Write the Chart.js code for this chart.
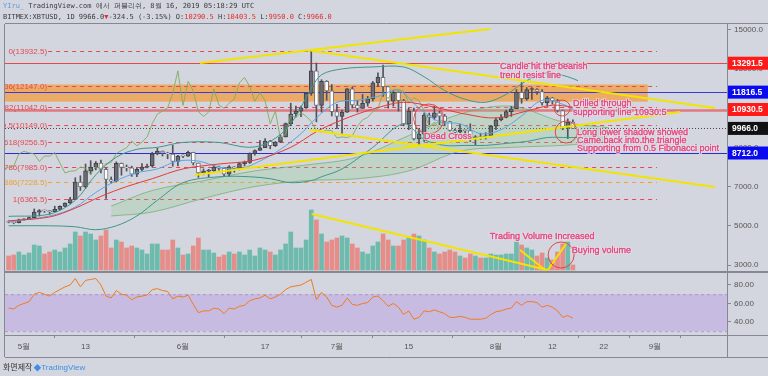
<!DOCTYPE html>
<html><head><meta charset="utf-8">
<script src="https://cdn.jsdelivr.net/npm/chart.js@4.4.1/dist/chart.umd.min.js"></script>
<style>
html,body{margin:0;padding:0;background:#d3d6de;width:768px;height:376px;overflow:hidden;}
#wrap{position:relative;width:768px;height:376px;}
canvas{position:absolute;left:0;top:0;}
.hd{position:absolute;left:3px;font:7px "DejaVu Sans Mono",monospace;color:#3a3a3a;white-space:pre;line-height:9px;}
.r{color:#e0302e;}
.ft{position:absolute;left:3px;top:361px;font:8px "Noto Sans CJK KR",sans-serif;color:#333;white-space:pre;}
.tv{color:#3d8fe6;font:8px "Liberation Sans",sans-serif;}
</style></head>
<body><div id="wrap">
<canvas id="c" width="768" height="376"></canvas>
<div class="hd" style="top:2px"><span style="color:#5a9be0">YIru_</span> TradingView.com 에서 퍼블리쉬, 8월 16, 2019 05:18:29 UTC</div>
<div class="hd" style="top:13px">BITMEX:XBTUSD, 1D 9966.0<span class="r">▼</span>-324.5 (-3.15%) O:<span class="r">10290.5</span> H:<span class="r">10403.5</span> L:<span class="r">9950.0</span> C:<span class="r">9966.0</span></div>
<div class="ft">화면제작 <span class="tv"><b style="font-size:9px">◆</b>TradingView</span></div>
</div>
<script>
// ---------- DATA ----------
const dates = ["04-28","04-29","04-30",
"05-01","05-02","05-03","05-04","05-05","05-06","05-07","05-08","05-09","05-10","05-11","05-12","05-13","05-14","05-15","05-16","05-17","05-18","05-19","05-20","05-21","05-22","05-23","05-24","05-25","05-26","05-27","05-28","05-29","05-30","05-31",
"06-01","06-02","06-03","06-04","06-05","06-06","06-07","06-08","06-09","06-10","06-11","06-12","06-13","06-14","06-15","06-16","06-17","06-18","06-19","06-20","06-21","06-22","06-23","06-24","06-25","06-26","06-27","06-28","06-29","06-30",
"07-01","07-02","07-03","07-04","07-05","07-06","07-07","07-08","07-09","07-10","07-11","07-12","07-13","07-14","07-15","07-16","07-17","07-18","07-19","07-20","07-21","07-22","07-23","07-24","07-25","07-26","07-27","07-28","07-29","07-30","07-31",
"08-01","08-02","08-03","08-04","08-05","08-06","08-07","08-08","08-09","08-10","08-11","08-12","08-13","08-14","08-15","08-16"];
const open = [5190,5180,5160,
5300,5340,5420,5700,5780,5760,5720,5840,5990,6160,6340,7230,6980,7800,7990,8200,7880,7360,7270,8190,7980,7950,7630,7880,7990,8050,8660,8800,8720,8660,8280,
8560,8550,8740,8200,7690,7790,7800,8000,7930,7630,8010,7920,8170,8230,8690,8840,8980,9320,9080,9270,9530,10210,10700,10850,11020,11750,12900,11140,12370,11880,
10820,10580,10800,11980,11160,10990,11250,11470,12290,12570,12100,11350,11800,11380,10200,10850,9430,9670,10640,10530,10760,10590,10320,9860,9770,9880,9850,9480,9530,9500,9590,
10080,10400,10530,10820,10970,11800,11480,11950,11960,11850,11280,11530,11380,10880,10020,10290.5];
const high = [5260,5200,5340,
5360,5440,5860,5830,5800,5790,6000,6020,6170,6450,7450,7550,8150,8320,8280,8350,7950,7490,8260,8200,8100,8040,7950,8170,8150,8750,8950,8820,8750,9100,8590,
8620,8810,8750,8200,7900,7880,8100,8050,7950,8070,8020,8220,8300,8720,8880,9350,9450,9360,9300,9620,10240,11250,11100,11100,11780,13930,13300,12450,12400,12200,
11200,10900,12000,12070,11400,11700,11600,12360,12800,13200,12100,11900,11830,11450,11000,11000,9960,10750,10750,11100,10850,10680,10330,9930,10180,9900,10200,9600,9720,9750,10120,
10500,10670,10900,11090,11950,12300,12050,12050,12000,11950,11600,11550,11450,10900,10450,10403.5];
const low = [5150,5100,5140,
5280,5320,5410,5500,5680,5590,5700,5790,5970,6120,6340,6800,6900,7630,7850,7700,6400,7180,7240,7580,7790,7520,7500,7800,7950,8000,8620,8560,8420,8040,8050,
8480,8540,8100,7470,7600,7480,7770,7830,7560,7520,7730,7850,8050,8180,8600,8840,8980,8930,9040,9250,9530,10100,10550,10560,10980,11650,10300,10800,11400,10600,
9950,9700,10780,11000,10800,10990,11100,11360,12100,11600,11000,11100,10850,10100,9900,9380,9070,9300,10150,10400,10150,10100,9830,9500,9740,9680,9300,9120,9410,9420,9570,
9900,10350,10500,10580,10970,11250,11400,11450,11700,11150,11100,11200,10800,9900,9450,9950];
const close = [5180,5160,5300,
5340,5420,5700,5780,5760,5720,5840,5990,6160,6340,7230,6980,7800,7990,8200,7880,7360,7270,8190,7980,7950,7630,7880,7990,8050,8660,8800,8720,8660,8280,8560,
8550,8740,8200,7690,7790,7800,8000,7930,7630,8010,7920,8170,8230,8690,8840,8980,9320,9080,9270,9530,10210,10700,10850,11020,11750,12900,11140,12370,11880,10820,
10580,10800,11980,11160,10990,11250,11470,12290,12570,12100,11350,11800,11380,10200,10850,9430,9670,10640,10530,10760,10590,10320,9860,9770,9880,9850,9480,9530,9500,9590,10080,
10400,10530,10820,10970,11800,11480,11950,11960,11850,11280,11530,11380,10880,10020,10290,9966];
const volume = [14,15,18,
15,17,25,24,16,18,20,18,22,26,38,34,38,36,30,34,40,22,30,28,22,24,22,20,16,26,26,20,20,30,22,
15,16,24,32,20,20,17,13,15,18,16,18,15,20,14,22,20,18,15,20,26,38,22,22,30,60,50,36,28,30,
32,34,32,26,22,18,16,24,28,36,30,24,24,30,32,36,34,30,22,18,16,18,20,18,14,12,16,14,12,12,16,
15,15,16,16,28,25,22,20,14,17,12,10,18,26,28,5];
const rsi = [55,54,58,
60,62,70,72,70,68,72,75,78,80,87,78,85,86,87,80,68,66,74,70,69,64,67,68,69,75,76,74,73,65,68,
67,69,59,50,52,52,55,54,49,55,54,57,58,63,65,66,69,65,67,70,75,78,79,80,83,86,64,72,67,58,
56,58,66,59,58,60,61,67,68,63,57,60,56,48,52,43,45,52,51,53,51,49,45,45,46,45,43,43,43,44,48,
51,52,54,55,62,58,62,62,61,56,58,56,52,45,47,44];

// indicator lines (read at a few days, day = days since May 1)
const maDays   = [-3,5,10,15,20,25,31,38,45,52,57,62,68,74,80,86,92,98,103,107];
const redMa    = [5250,5450,5900,6500,7000,7400,7900,8150,8350,9000,9800,10400,10950,11300,11050,10700,10500,10850,11150,11050];
const blueDays = [-3,5,10,14,18,22,26,30,34,38,42,46,50,54,57,61,65,69,73,77,81,85,89,93,97,101,105,108];
const blueMa   = [5200,5500,5950,6700,7300,7700,7900,8300,8300,8000,7900,8300,8900,9700,10500,11300,11400,11600,11900,11000,10300,10200,9700,9900,10600,11400,11200,10800];
const bbDays   = [-3,5,10,14,18,22,26,31,38,44,48,52,56,58,62,68,74,78,82,86,90,94,98,102,106,108];
const bbUpper  = [5480,5600,6300,7600,8500,8900,9000,9250,9250,9000,9300,10200,12000,12700,13000,13100,13100,12600,11900,11450,11300,11700,12400,12800,12600,12400];
const bbLower  = [5000,5000,4950,4800,5000,5500,6300,7200,7500,7500,7400,7200,7300,7500,7900,9000,10200,9400,9100,9100,9100,9200,9300,9500,9500,9500];
const cloudDays = [17,25,35,45,55,65,75,85,95,105,114];
const spanA    = [6000,6800,7300,7800,8100,8500,9600,10700,11100,10300,10000];
const spanB    = [5500,5700,6400,7000,7300,7400,7800,8800,9000,9100,9300];
const lagShift = 26;

// levels
const fibLevels = [13932.5,12147.0,11042.0,10149.0,9256.5,7985.0,7228.5,6365.5];
const fibNames  = ["0","0.236","0.382","0.5","0.618","0.786","0.886","1"];
const markLevels = [13291.5,11816.5,10930.5,9966.0,8712.0];
const priceTicks = [3000,4000,5000,6000,7000,8000,9000,10000,11000,12000,13000,14000,15000];
const rsiTicks = [40,60,80];
const xTickDays = [0,12,31,47,61,75,92,103,113,123];
const xTickLabels = ["5월","13","6월","17","7월","15","8월","12","22","9월"];

// trend lines: [day, value]
const trendUp1  = [[34.3,13302],[90.8,15036]];
const trendDown = [[56.0,13932],[134.7,11007]];
const trendLow  = [[55.75,9885],[134.7,6979]];
const trendTri  = [[33.3,7591],[127.9,10803]];
const volLine1  = [[56.1,56],[102.1,0]];
const volLine2  = [[96.7,20],[101.6,0]];
const volLine3  = [[102.1,0],[105.8,27]];

// ---------- BUILD ----------
const dayOf = s => { const [m,d] = s.split('-').map(Number); return (Date.UTC(2019,m-1,d)-Date.UTC(2019,4,1))/864e5; };
const days = dates.map(dayOf);
const isUp = close.map((c,i)=>c>=open[i]);
const pts = (xs, ys) => xs.map((x,i)=>({x, y: ys[i]}));
const seg = a => a.map(p=>({x:p[0], y:p[1]}));

const PINK = '#e8447c';
const notes = [
  {t:"Candle hit the bearish", d:92.8, v:13098, ax:'y'},
  {t:"trend resist line", d:92.8, v:12639, ax:'y'},
  {t:"Drilled through", d:107.0, v:11211, ax:'y'},
  {t:"supporting line 10930.5", d:107.0, v:10752, ax:'y'},
  {t:"Long lower shadow showed", d:107.8, v:9732, ax:'y'},
  {t:"Came back into the triangle", d:107.8, v:9324, ax:'y'},
  {t:"Supporting from 0.5 Fibonacci point", d:107.8, v:8916, ax:'y'},
  {t:"Dead Cross", d:78.0, v:9528, ax:'y'},
  {t:"Trading Volume Increased", d:90.8, v:33, ax:'vol'},
  {t:"Buying volume", d:106.8, v:19, ax:'vol'}
];
const rings = [
  {d:78.9, v:10446, r:15, ax:'y'},
  {d:104.9, v:11006, r:8, ax:'y'},
  {d:105.7, v:9783, r:11, ax:'y'},
  {d:104.7, v:15, r:13, ax:'vol'}
];

const overlay = {
  id:'overlay',
  beforeDatasetsDraw(chart){
    const {ctx, chartArea:ca, scales:{x,y,rsi:r}} = chart;
    ctx.save();
    ctx.beginPath(); ctx.rect(ca.left, ca.top, ca.right-ca.left, ca.bottom-ca.top); ctx.clip();
    // RSI band
    const y70 = r.getPixelForValue(70), y30 = r.getPixelForValue(30);
    ctx.fillStyle = 'rgba(176,130,235,0.32)';
    ctx.fillRect(ca.left, y70, ca.right-ca.left, y30-y70);
    ctx.strokeStyle = 'rgba(150,110,200,0.55)'; ctx.setLineDash([3,3]); ctx.lineWidth=1;
    [y70,y30].forEach(yy=>{ctx.beginPath();ctx.moveTo(ca.left,yy+0.5);ctx.lineTo(ca.right,yy+0.5);ctx.stroke();});
    ctx.setLineDash([]);
    // orange zone
    const bx2 = x.getPixelForValue(121.6);
    const by1 = y.getPixelForValue(12206), by2 = y.getPixelForValue(11330);
    ctx.fillStyle = 'rgba(246,150,45,0.68)';
    ctx.fillRect(ca.left, by1, bx2-ca.left, by2-by1);
    // solid level lines
    const lvl = (v,col,w,dash) => { const yy=Math.round(y.getPixelForValue(v))+0.5; ctx.strokeStyle=col; ctx.lineWidth=w; ctx.setLineDash(dash||[]); ctx.beginPath(); ctx.moveTo(ca.left,yy); ctx.lineTo(ca.right,yy); ctx.stroke(); ctx.setLineDash([]); };
    lvl(13291.5,'#e8474a',1);
    lvl(11816.5,'#3a3ad8',1);
    lvl(10930.5,'rgba(232,90,95,0.75)',2.5);
    lvl(9966.0,'#444',1,[1,2]);
    lvl(8712.0,'#2b2bd6',1.2);
    // fib lines
    const fx1 = x.getPixelForValue(4.7), fx2 = x.getPixelForValue(123.4);
    ctx.font = '8px "Liberation Sans", sans-serif'; ctx.textAlign='right'; ctx.textBaseline='middle';
    fibLevels.forEach((v,i)=>{
      const col = fibNames[i]==='0.886' ? '#f0a030' : '#e44a55';
      const yy = Math.round(y.getPixelForValue(v))+0.5;
      ctx.strokeStyle = col; ctx.lineWidth=1; ctx.setLineDash([4,4]);
      ctx.beginPath(); ctx.moveTo(fx1,yy); ctx.lineTo(fx2,yy); ctx.stroke();
      ctx.setLineDash([]);
      ctx.fillStyle = col;
      ctx.fillText(fibNames[i]+'('+v.toFixed(1)+')', fx1-1, yy);
    });
    ctx.restore();
  },
  afterDatasetsDraw(chart){
    const {ctx, chartArea:ca, scales} = chart;
    const x = scales.x;
    ctx.save();
    ctx.beginPath(); ctx.rect(ca.left, ca.top, ca.right-ca.left, ca.bottom-ca.top); ctx.clip();
    ctx.strokeStyle = '#e04545'; ctx.lineWidth=1;
    rings.forEach(c=>{ ctx.beginPath(); ctx.arc(x.getPixelForValue(c.d), scales[c.ax].getPixelForValue(c.v), c.r, 0, Math.PI*2); ctx.stroke(); });
    ctx.font = '9px "Liberation Sans", sans-serif'; ctx.textAlign='left'; ctx.textBaseline='middle';
    notes.forEach(n=>{
      const px = x.getPixelForValue(n.d), py = scales[n.ax].getPixelForValue(n.v);
      ctx.lineWidth = 2.2; ctx.strokeStyle='rgba(225,228,236,0.8)'; ctx.strokeText(n.t, px, py);
      ctx.fillStyle = PINK; ctx.fillText(n.t, px, py);
      ctx.lineWidth = 0.35; ctx.strokeStyle = PINK; ctx.strokeText(n.t, px, py);
    });
    ctx.restore();
  },
  afterDraw(chart){
    const {ctx, chartArea:ca, scales:{y,rsi:r}} = chart;
    ctx.save();
    ctx.strokeStyle = '#858892'; ctx.lineWidth = 1;
    const L=(x1,y1,x2,y2)=>{ctx.beginPath();ctx.moveTo(x1,y1);ctx.lineTo(x2,y2);ctx.stroke();};
    L(ca.left-0.5, ca.top, ca.left-0.5, 357);
    L(ca.left, ca.top-0.5, 768, ca.top-0.5);
    ctx.lineWidth = 2; L(ca.left, r.top, 768, r.top);
    ctx.lineWidth = 1; L(ca.left, ca.bottom+0.5, 768, ca.bottom+0.5);
    L(ca.left, 357.5, 768, 357.5);
    L(ca.right+0.5, ca.top, ca.right+0.5, 357);
    // badges
    const cols = ['#ff1a1a','#0a0af0','#ff1a1a','#111111','#0a0af0'];
    ctx.font = 'bold 8.5px "Liberation Sans", sans-serif'; ctx.textAlign='left'; ctx.textBaseline='middle';
    markLevels.forEach((v,i)=>{
      const yy = y.getPixelForValue(v);
      ctx.fillStyle = cols[i]; ctx.fillRect(ca.right+1, yy-6.5, 768-ca.right, 13);
      ctx.fillStyle = '#fff'; ctx.fillText(v.toFixed(1), ca.right+5, yy+0.5);
    });
    ctx.restore();
  }
};

const line = (data, color, axis, extra) => Object.assign({type:'line', data, borderColor:color, borderWidth:1, pointRadius:0, yAxisID:axis||'y', tension:0.35, order:1}, extra||{});

const datasets = [
  line(seg(trendUp1), '#f3e400', 'y', {borderWidth:2, tension:0, order:0}),
  line(seg(trendDown), '#f3e400', 'y', {borderWidth:2, tension:0, order:0}),
  line(seg(trendLow), '#f3e400', 'y', {borderWidth:2, tension:0, order:0}),
  line(seg(trendTri), '#f3e400', 'y', {borderWidth:2, tension:0, order:0}),
  line(seg(volLine1), '#f3e400', 'vol', {borderWidth:2, tension:0, order:0}),
  line(seg(volLine2), '#f3e400', 'vol', {borderWidth:2, tension:0, order:0}),
  line(seg(volLine3), '#f3e400', 'vol', {borderWidth:2, tension:0, order:0}),
  line(pts(cloudDays, spanA), 'rgba(110,170,110,0.7)', 'y', {order:4}),
  line(pts(cloudDays, spanB), 'rgba(110,170,110,0.7)', 'y', {order:4, fill:'-1', backgroundColor:'rgba(140,205,140,0.28)'}),
  line(pts(bbDays, bbUpper), '#3f968c', 'y'),
  line(pts(bbDays, bbLower), '#3f968c', 'y'),
  line(pts(maDays, redMa), '#e23b3b', 'y'),
  line(pts(blueDays, blueMa), '#58a6e6', 'y'),
  line(days.map((d,i)=>({x:d-lagShift, y:close[i]})), 'rgba(125,170,85,0.85)', 'y', {tension:0}),
  line(pts(days, rsi), '#f07a1e', 'rsi', {tension:0}),
  {type:'bar', data: days.map((d,i)=>({x:d, y:[open[i], close[i]]})), yAxisID:'y',
   backgroundColor: isUp.map(u=>u?'#6a6d75':'#ffffff'), borderColor: isUp.map(u=>u?'#3e4148':'#70737b'),
   borderWidth:1, borderSkipped:false, barThickness:4, minBarLength:1, grouped:false, order:2},
  {type:'bar', data: days.map((d,i)=>({x:d, y:[low[i], high[i]]})), yAxisID:'y',
   backgroundColor:'#50535b', barThickness:1, grouped:false, order:3},
  {type:'bar', data: days.map((d,i)=>({x:d, y:volume[i]})), yAxisID:'vol',
   backgroundColor: isUp.map(u=>u?'rgba(92,182,166,0.85)':'rgba(232,128,122,0.85)'), barThickness:4, grouped:false, order:6}
];

const tickFont = {family:'"Liberation Sans", sans-serif', size:8};
new Chart(document.getElementById('c'), {
  data:{datasets},
  options:{
    responsive:false, animation:false, events:[],
    layout:{padding:{left:5, top:24, right:0, bottom:19}},
    plugins:{legend:{display:false}, tooltip:{enabled:false}},
    scales:{
      x:{type:'linear', axis:'x', min:-3.7, max:137.04, offset:false,
         afterBuildTicks:s=>{s.ticks = xTickDays.map(v=>({value:v}));},
         afterFit:s=>{s.height=22;},
         ticks:{autoSkip:false, maxRotation:0, font:tickFont, color:'#555', padding:4,
                callback:v=>xTickLabels[xTickDays.indexOf(v)]},
         grid:{display:true, drawOnChartArea:false, tickLength:3, color:'#888'},
         border:{display:false}},
      y:{type:'linear', axis:'y', position:'right', stack:'main', stackWeight:248, min:2643, max:15291, weight:0,
         afterBuildTicks:s=>{s.ticks = priceTicks.map(v=>({value:v}));},
         afterFit:s=>{s.width=41;},
         ticks:{font:tickFont, color:'#555', padding:3, callback:v=>v.toFixed(1)},
         grid:{drawOnChartArea:false, tickLength:4, color:'#888'},
         border:{display:false}},
      rsi:{type:'linear', axis:'y', position:'right', stack:'main', stackWeight:63, min:25.9, max:94.05, weight:1,
         afterBuildTicks:s=>{s.ticks = rsiTicks.map(v=>({value:v}));},
         afterFit:s=>{s.width=41;},
         ticks:{font:tickFont, color:'#555', padding:3, callback:v=>v.toFixed(2)},
         grid:{drawOnChartArea:false, tickLength:4, color:'#888'},
         border:{display:false}},
      vol:{type:'linear', axis:'y', position:'left', display:false, min:-65, max:246}
    }
  },
  plugins:[overlay]
});
</script>
</body></html>
